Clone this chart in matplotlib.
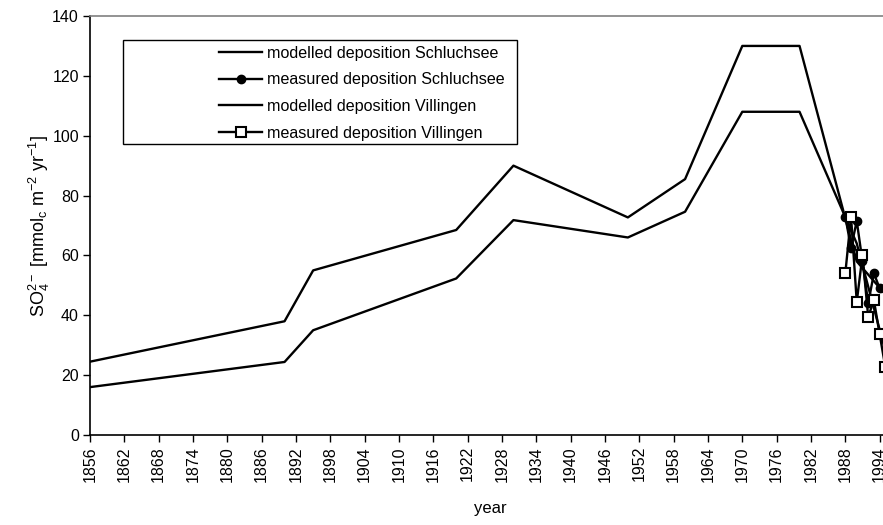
import matplotlib
matplotlib.use("Agg")
import matplotlib.pyplot as plt
from matplotlib.patches import Rectangle

plt.rcParams['font.family'] = ['Liberation Sans', 'DejaVu Sans']
plt.rcParams['mathtext.fontset'] = 'custom'
plt.rcParams['mathtext.rm'] = 'Liberation Sans'
plt.rcParams['mathtext.it'] = 'Liberation Sans'

# modelled deposition (key years of the piecewise-linear scenarios)
mod_years = [1856, 1890, 1895, 1920, 1930, 1950, 1960, 1970, 1980, 1990, 1995]
mod_schluchsee = [24.5, 38, 55, 68.5, 90, 72.7, 85.5, 130, 130, 58, 47]
mod_villingen = [16, 24.4, 35, 52.3, 71.8, 66, 74.6, 108, 108, 64, 28]

# measured deposition
meas_years_s = [1988, 1989, 1990, 1991, 1992, 1993, 1994]
meas_schluchsee = [73, 62.5, 71.5, 58, 44, 54, 49]
meas_years_v = [1988, 1989, 1990, 1991, 1992, 1993, 1994, 1995]
meas_villingen = [54, 73, 44.5, 60, 39.5, 45, 33.7, 22.6]

tick_years = list(range(1856, 1995, 6))
y_ticks = list(range(0, 141, 20))

W, H = 883, 525
fig = plt.figure(figsize=(W / 100, H / 100), dpi=100)
px_per_year = 5.722
x0, xmax = 1856, 1996
left, top, bottom = 90, 16, 435
axw = (xmax - x0) * px_per_year
ax = fig.add_axes([left / W, 1 - bottom / H, axw / W, (bottom - top) / H])

ax.plot(mod_years, mod_schluchsee, color='black', lw=1.7, label='modelled deposition Schluchsee', zorder=3)
ax.plot(meas_years_s, meas_schluchsee, color='black', lw=1.7, marker='o', markersize=6,
        label='measured deposition Schluchsee', zorder=4)
ax.plot(mod_years, mod_villingen, color='black', lw=1.7, label='modelled deposition Villingen', zorder=3)
ax.plot(meas_years_v, meas_villingen, color='black', lw=1.7, marker='s', markersize=6.5,
        markerfacecolor='white', markeredgecolor='black', markeredgewidth=1.5,
        label='measured deposition Villingen', zorder=5)

ax.set_xlim(x0, xmax)
ax.set_ylim(0, 140)
ax.set_xticks(tick_years)
ax.set_xticklabels([str(y) for y in tick_years], rotation=90, fontsize=11.5)
ax.set_yticks(y_ticks)
ax.set_yticklabels([str(v) for v in y_ticks], fontsize=11.5)
ax.tick_params(axis='both', direction='out', length=5, width=1, color='black', pad=3)

for s in ['left', 'bottom']:
    ax.spines[s].set_color('black')
    ax.spines[s].set_linewidth(1.2)
ax.spines['top'].set_color('#808080')
ax.spines['top'].set_linewidth(1.2)
ax.spines['right'].set_visible(False)

ax.set_xlabel('year', fontsize=12)
ax.xaxis.set_label_coords((490 - left) / axw, -(501 - bottom) / (bottom - top))
ax.set_ylabel(r'SO$_4^{2-}$ [mmol$_c$ m$^{-2}$ yr$^{-1}$]', fontsize=13)
ax.yaxis.set_label_coords(-(left - 52) / axw, 0.5)

# legend box
rect = Rectangle((123 / W, 1 - 144 / H), (517 - 123) / W, (144 - 40) / H, transform=fig.transFigure,
                 facecolor='white', edgecolor='black', lw=1.0, zorder=10)
fig.patches.append(rect)
leg = fig.legend(loc='upper left', bbox_to_anchor=(214 / W, 1 - 41 / H), frameon=False,
                 fontsize=11.6, handlelength=2.7, handletextpad=0.3, labelspacing=0.72,
                 borderaxespad=0, borderpad=0.3)
leg.set_zorder(11)

fig.savefig('out.png', dpi=100)
